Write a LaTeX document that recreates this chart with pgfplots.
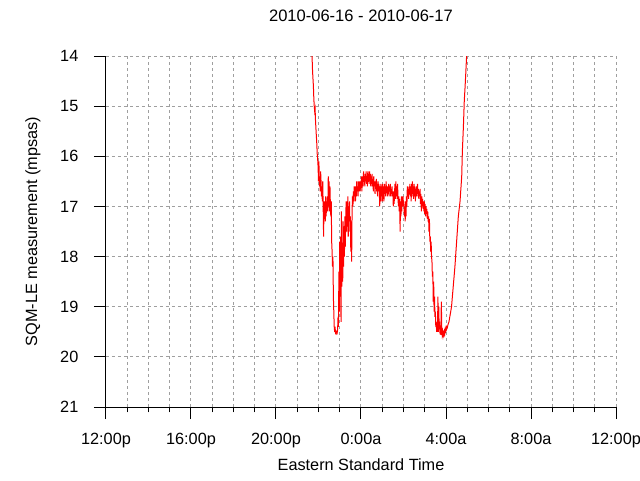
\documentclass[border=0pt]{standalone}
\usepackage{fontspec}
\setmainfont{Liberation Sans}
\usepackage{pgfplots}
\pgfplotsset{compat=1.18}
\begin{document}
\fontsize{12.2pt}{14pt}\selectfont
\begin{tikzpicture}
\useasboundingbox (-79.5pt,-54.75pt) rectangle (400.5pt,305.25pt);
\begin{axis}[
  scale only axis,
  width=382.5pt, height=263.25pt,
  xmin=0, xmax=24, ymin=14, ymax=21,
  y dir=reverse,
  axis x line=bottom, axis y line=left,
  axis line style={-, black, line width=0.75pt},
  xtick={0,4,...,24},
  xticklabels={12:00p,16:00p,20:00p,0:00a,4:00a,8:00a,12:00p},
  minor xtick={1,2,3,5,6,7,9,10,11,13,14,15,17,18,19,21,22,23},
  ytick={14,15,...,21},
  minor ytick={},
  tick align=outside,
  major tick length=9pt, minor tick length=4pt,
  every tick/.style={black, line width=0.75pt},
  grid=both,
  major grid style={gray!75, line width=0.75pt, dash pattern=on 2.25pt off 2.25pt},
  minor grid style={gray!75, line width=0.75pt, dash pattern=on 2.25pt off 2.25pt},
  /pgf/number format/assume math mode=true,
  xticklabel style={anchor=base, yshift=-18.75pt, font=\fontsize{12.2pt}{14pt}\selectfont},
  yticklabel style={anchor=east, xshift=-7.5pt, font=\fontsize{12.2pt}{14pt}\selectfont},
  title={2010-06-16 - 2010-06-17},
  title style={at={(axis description cs:0.5,1.0912)}, anchor=center, font=\fontsize{12.4pt}{14pt}\selectfont},
  xlabel={Eastern Standard Time},
  xlabel style={at={(axis description cs:0.5,-0.1652)}, anchor=center},
  ylabel={SQM-LE measurement (mpsas)},
  ylabel style={at={(axis description cs:-0.1431,0.5)}, anchor=center},
]
\addplot[red, line width=0.75pt, mark=none] coordinates {
(9.60,13.3) (9.65,13.7) (9.70,14.05) (9.72,14.3) (9.74,14.45) (9.76,14.6) (9.78,14.85)
(9.80,15.0) (9.82,15.1) (9.84,15.05) (9.86,15.3) (9.88,15.45) (9.90,15.6) (9.92,15.75)
(9.94,15.95) (9.96,16.05) (9.98,16.2) (10.00,16.5) (10.02,16.1) (10.04,16.6) (10.06,16.4)
(10.08,16.7) (10.10,16.3) (10.12,16.5) (10.14,16.8) (10.16,16.6) (10.18,16.9) (10.20,16.5)
(10.22,17.0) (10.24,17.6) (10.26,16.9) (10.28,17.2) (10.30,16.9) (10.32,17.3) (10.34,16.8)
(10.36,17.2) (10.38,16.9) (10.40,17.1) (10.42,16.8) (10.44,17.1) (10.46,16.4) (10.48,17.0)
(10.50,16.5) (10.52,17.1) (10.54,16.6) (10.56,17.0) (10.58,17.2) (10.60,16.9) (10.62,17.7)
(10.64,17.9) (10.66,18.2) (10.68,18.0) (10.70,18.8) (10.72,19.1) (10.74,19.4) (10.76,19.5)
(10.78,19.4) (10.80,19.52) (10.82,19.5) (10.84,19.53) (10.86,19.5) (10.88,19.52) (10.90,19.45)
(10.92,19.2) (10.94,19.4) (10.96,18.3) (10.98,19.1) (11.00,17.7) (11.02,18.8) (11.04,17.6)
(11.06,19.3) (11.08,17.1) (11.10,18.6) (11.12,17.8) (11.14,18.5) (11.16,17.3) (11.18,18.2)
(11.20,17.4) (11.22,18.0) (11.24,17.2) (11.26,17.8) (11.28,17.3) (11.30,16.9) (11.32,17.5)
(11.34,16.9) (11.36,17.4) (11.38,16.8) (11.40,17.6) (11.42,17.0) (11.44,17.3) (11.46,16.9)
(11.48,17.5) (11.50,17.2) (11.52,17.9) (11.54,17.3) (11.56,18.1) (11.58,17.1) (11.60,16.8)
(11.62,17.0) (11.64,16.7) (11.66,16.9) (11.68,16.6) (11.70,16.8) (11.72,16.6) (11.74,16.9)
(11.76,16.6) (11.78,16.8) (11.80,16.5) (11.82,16.7) (11.84,16.6) (11.86,16.8) (11.88,16.5)
(11.90,16.7) (11.92,16.6) (11.94,16.5) (11.96,16.7) (11.98,16.5) (12.00,16.6) (12.02,16.4)
(12.04,16.7) (12.06,16.5) (12.08,16.4) (12.10,16.6) (12.12,16.3) (12.14,16.5) (12.16,16.4)
(12.18,16.6) (12.20,16.35) (12.22,16.5) (12.24,16.3) (12.26,16.55) (12.28,16.4) (12.30,16.6)
(12.32,16.3) (12.34,16.45) (12.36,16.35) (12.38,16.55) (12.40,16.3) (12.42,16.5) (12.44,16.35)
(12.46,16.6) (12.48,16.4) (12.50,16.55) (12.52,16.35) (12.54,16.6) (12.56,16.45) (12.58,16.7)
(12.60,16.4) (12.62,16.6) (12.64,16.5) (12.66,16.75) (12.68,16.5) (12.70,16.65) (12.72,16.45)
(12.74,16.7) (12.76,16.55) (12.78,16.8) (12.80,16.5) (12.82,16.7) (12.84,16.55) (12.86,16.65)
(12.88,17.0) (12.90,16.6) (12.92,16.9) (12.94,16.55) (12.96,16.8) (12.98,16.6) (13.00,16.9)
(13.02,16.55) (13.04,16.85) (13.06,16.6) (13.08,16.9) (13.10,16.55) (13.12,16.75) (13.14,16.6)
(13.16,16.8) (13.18,16.5) (13.20,16.7) (13.22,16.6) (13.24,16.8) (13.26,16.6) (13.28,16.75)
(13.30,16.55) (13.32,16.8) (13.34,16.6) (13.36,16.7) (13.38,16.55) (13.40,16.8) (13.42,16.65)
(13.44,16.75) (13.46,16.6) (13.48,16.8) (13.50,16.7) (13.52,17.0) (13.54,16.7) (13.56,16.95)
(13.58,16.7) (13.60,16.55) (13.62,16.85) (13.64,16.5) (13.66,16.8) (13.68,16.6) (13.70,16.85)
(13.72,16.55) (13.74,16.8) (13.76,17.0) (13.78,16.8) (13.80,17.1) (13.82,16.85) (13.84,17.5)
(13.86,16.9) (13.88,17.2) (13.90,16.8) (13.92,17.1) (13.94,16.8) (13.96,17.0) (13.98,16.8)
(14.00,17.0) (14.02,16.9) (14.04,17.2) (14.06,17.0) (14.08,17.3) (14.10,16.9) (14.12,17.2)
(14.14,16.8) (14.16,17.0) (14.18,16.6) (14.20,16.8) (14.22,16.65) (14.24,16.85) (14.26,16.6)
(14.28,16.75) (14.30,16.55) (14.32,16.8) (14.34,16.6) (14.36,16.9) (14.38,16.55) (14.40,16.75)
(14.42,16.5) (14.44,16.8) (14.46,16.6) (14.48,16.85) (14.50,16.55) (14.52,16.75) (14.54,16.6)
(14.56,16.9) (14.58,16.65) (14.60,16.8) (14.62,16.6) (14.64,16.75) (14.66,16.55) (14.68,16.8)
(14.70,16.65) (14.72,16.85) (14.74,16.7) (14.76,16.8) (14.78,16.65) (14.80,16.95) (14.82,16.75)
(14.84,17.1) (14.86,16.8) (14.88,17.0) (14.90,16.85) (14.92,17.05) (14.94,16.9) (14.96,17.1)
(14.98,16.9) (15.00,17.15) (15.02,16.95) (15.04,17.2) (15.06,17.0) (15.08,17.15) (15.10,17.05)
(15.12,17.25) (15.14,17.1) (15.16,17.3) (15.18,17.2) (15.20,17.5) (15.22,17.25) (15.24,17.7)
(15.26,17.6) (15.28,17.9) (15.30,17.7) (15.32,18.0) (15.34,18.1) (15.36,18.4) (15.38,18.3)
(15.40,18.9) (15.42,18.5) (15.44,19.1) (15.46,18.8) (15.48,19.2) (15.50,19.1) (15.52,19.4)
(15.54,19.3) (15.56,19.5) (15.58,19.35) (15.60,19.5) (15.62,18.8) (15.64,19.5) (15.66,19.0)
(15.68,19.45) (15.70,19.3) (15.72,19.55) (15.74,19.4) (15.76,19.56) (15.78,18.9) (15.80,19.4)
(15.82,19.55) (15.84,19.5) (15.86,19.58) (15.88,19.52) (15.90,19.56) (15.92,19.5) (15.94,19.54)
(15.96,19.45) (15.98,19.48) (16.00,19.42) (16.02,19.45) (16.04,19.4) (16.06,19.42) (16.08,19.38)
(16.10,19.35) (16.14,19.3) (16.18,19.2) (16.22,19.1) (16.26,19.0) (16.30,18.8) (16.34,18.6)
(16.38,18.4) (16.42,18.2) (16.46,17.95) (16.50,17.7) (16.54,17.45) (16.58,17.2) (16.62,17.05)
(16.66,16.9) (16.70,16.65) (16.74,16.4) (16.77,15.9) (16.80,15.6) (16.82,15.4) (16.86,14.9)
(16.90,14.6) (16.93,14.35) (16.97,14.0) (17.00,13.7)
};
\end{axis}
\end{tikzpicture}
\end{document}
